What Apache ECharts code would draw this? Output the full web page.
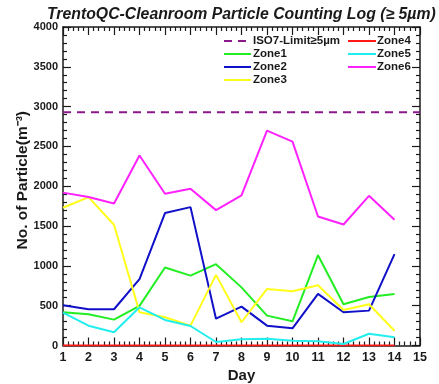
<!DOCTYPE html>
<html>
<head>
<meta charset="utf-8">
<script src="https://cdn.jsdelivr.net/npm/echarts@6/dist/echarts.min.js"></script>
<style>
  html, body { margin: 0; padding: 0; background: #fff; }
  #chart { width: 439px; height: 384px; }
</style>
</head>
<body>
<div id="chart"></div>
<script>
// Daily particle counts (>= 5 um), particles per m^3
const days  = [1, 2, 3, 4, 5, 6, 7, 8, 9, 10, 11, 12, 13, 14];
const isoLimit = 2930;            // ISO 7 class limit for >= 5 um
const isoRange = [1, 15];
const zone1 = [417, 392, 325, 497, 979, 878, 1021, 730, 375, 304, 1134, 518, 610, 648];
const zone2 = [506, 455, 455, 833, 1663, 1738, 337, 488, 249, 216, 648, 417, 438, 1147];
const zone3 = [1730, 1864, 1516, 417, 355, 249, 887, 292, 711, 682, 757, 447, 518, 186];
const zone4 = [0, 0, 0, 0, 0, 0, 0, 0, 0, 0, 0, 0, 0, 0];
const zone5 = [413, 249, 166, 480, 321, 245, 44, 78, 86, 60, 53, 19, 148, 103];
const zone6 = [1920, 1864, 1784, 2387, 1905, 1968, 1700, 1884, 2698, 2560, 1620, 1520, 1880, 1579];

const pairs = vals => days.map((d, i) => [d, vals[i]]);

const font = 'Liberation Sans, Arial, sans-serif';
const ink = '#1a1a1a';

function lineSeries(name, vals, color) {
  return {
    name, type: 'line', data: pairs(vals), symbol: 'none',
    lineStyle: { color, width: 2 }, itemStyle: { color },
    animation: false
  };
}

// frame axes: ticks pointing into the plot, four minor ticks per interval
function frameAxis(extra) {
  return Object.assign({
    axisLine: { show: true, onZero: false, lineStyle: { color: ink, width: 1.5 } },
    splitLine: { show: false },
    axisTick: { show: true, inside: true, length: 8, lineStyle: { color: ink, width: 1.2 } },
    minorTick: { show: true, splitNumber: 5, length: 4, lineStyle: { color: ink, width: 1.2 } }
  }, extra);
}

const legendText = { fontFamily: font, fontSize: 11.5, fontWeight: 'bold', color: ink, lineHeight: 12 };

const chart = echarts.init(document.getElementById('chart'), null, { renderer: 'canvas' });
chart.setOption({
  backgroundColor: '#fff',
  animation: false,
  title: {
    text: 'TrentoQC-Cleanroom Particle Counting Log (\u2265 5\u00b5m)',
    left: 42, top: 2,
    textStyle: { fontFamily: font, fontSize: 15.8, fontWeight: 'bold', fontStyle: 'italic', color: ink }
  },
  grid: { left: 63, right: 19, top: 27, bottom: 38.5, outerBoundsMode: 'none', containLabel: false },
  legend: [
    {
      orient: 'vertical', left: 223, top: 35, padding: 0,
      itemWidth: 27, itemHeight: 12, itemGap: 1,
      itemStyle: { opacity: 0 },
      data: ['ISO7-Limit\u22655\u00b5m', 'Zone1', 'Zone2', 'Zone3'],
      textStyle: Object.assign({ padding: [0, 0, 0, -3] }, legendText)
    },
    {
      orient: 'vertical', left: 347, top: 35, padding: 0,
      itemWidth: 28, itemHeight: 12, itemGap: 1,
      itemStyle: { opacity: 0 },
      data: ['Zone4', 'Zone5', 'Zone6'],
      textStyle: Object.assign({ padding: [0, 0, 0, -4] }, legendText)
    }
  ],
  xAxis: [
    frameAxis({
      type: 'value', min: 1, max: 15, interval: 1, position: 'bottom',
      name: 'Day', nameLocation: 'middle', nameGap: 23, nameMoveOverlap: false,
      nameTextStyle: { fontFamily: font, fontSize: 15, fontWeight: 'bold', color: ink },
      axisLabel: { fontFamily: font, fontSize: 12.5, fontWeight: 'bold', color: ink, margin: 6 }
    }),
    frameAxis({
      type: 'value', min: 1, max: 15, interval: 1, position: 'top',
      axisLabel: { show: false }
    })
  ],
  yAxis: [
    frameAxis({
      type: 'value', min: 0, max: 4000, interval: 500, position: 'left',
      name: 'No. of Particle(m\u207b\u00b3)', nameLocation: 'middle', nameGap: 32, nameMoveOverlap: false,
      nameTextStyle: { fontFamily: font, fontSize: 15.5, fontWeight: 'bold', color: ink, padding: [0, 0, 0, 12] },
      axisLabel: { fontFamily: font, fontSize: 11, fontWeight: 'bold', color: ink, margin: 5,
                   formatter: v => String(v) }
    }),
    frameAxis({
      type: 'value', min: 0, max: 4000, interval: 500, position: 'right',
      axisLabel: { show: false }
    })
  ],
  series: [
    {
      name: 'ISO7-Limit\u22655\u00b5m', type: 'line', symbol: 'none',
      data: isoRange.map(d => [d, isoLimit]),
      lineStyle: { color: '#8a1a8c', width: 2, type: [8, 6] },
      itemStyle: { color: '#8a1a8c' }
    },
    lineSeries('Zone1', zone1, '#22ee22'),
    lineSeries('Zone2', zone2, '#1010c8'),
    lineSeries('Zone3', zone3, '#ffff1a'),
    lineSeries('Zone4', zone4, '#ff1a1a'),
    lineSeries('Zone5', zone5, '#22eeee'),
    lineSeries('Zone6', zone6, '#ff22ff')
  ]
});
</script>
</body>
</html>
